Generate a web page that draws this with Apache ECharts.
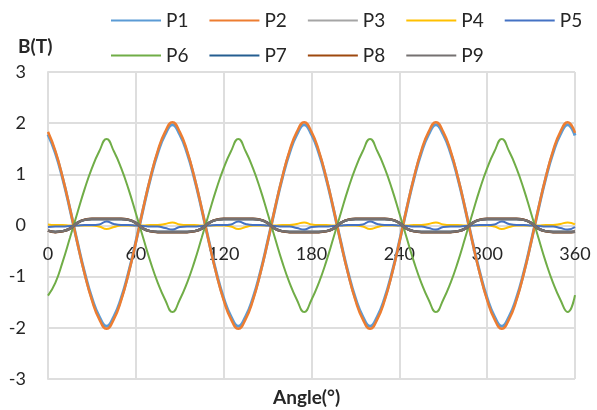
<!DOCTYPE html>
<html>
<head>
<meta charset="utf-8">
<script src="https://cdn.jsdelivr.net/npm/echarts@6/dist/echarts.min.js"></script>
<style>
  html, body { margin: 0; padding: 0; background: #fff; }
  #chart { width: 597px; height: 410px; }
</style>
</head>
<body>
<div id="chart"></div>
<script>
// angle samples (deg)
const angles = [
  0, 5, 10, 15, 20, 25, 30, 35, 40, 45, 50, 55, 60, 65, 70, 75, 80, 85,
  90, 95, 100, 105, 110, 115, 120, 125, 130, 135, 140, 145, 150, 155, 160, 165, 170, 175,
  180, 185, 190, 195, 200, 205, 210, 215, 220, 225, 230, 235, 240, 245, 250, 255, 260, 265,
  270, 275, 280, 285, 290, 295, 300, 305, 310, 315, 320, 325, 330, 335, 340, 345, 350, 355,
  360
]
const xTicks = [0, 60, 120, 180, 240, 300, 360]
const yTicks = [-3, -2, -1, 0, 1, 2, 3]

const p1 = [
  1.78, 1.42, 0.92, 0.32, -0.32, -0.92, -1.42, -1.78, -1.97, -1.78, -1.42, -0.92, -0.32, 0.32, 0.92, 1.42, 1.78, 1.97,
  1.78, 1.42, 0.92, 0.32, -0.32, -0.92, -1.42, -1.78, -1.97, -1.78, -1.42, -0.92, -0.32, 0.32, 0.92, 1.42, 1.78, 1.97,
  1.78, 1.42, 0.92, 0.32, -0.32, -0.92, -1.42, -1.78, -1.97, -1.78, -1.42, -0.92, -0.32, 0.32, 0.92, 1.42, 1.78, 1.97,
  1.78, 1.42, 0.92, 0.32, -0.32, -0.92, -1.42, -1.78, -1.97, -1.78, -1.42, -0.92, -0.32, 0.32, 0.92, 1.42, 1.78, 1.97,
  1.76
]
const p2 = [
  1.83, 1.46, 0.94, 0.33, -0.33, -0.94, -1.46, -1.83, -2.02, -1.83, -1.46, -0.94, -0.33, 0.33, 0.94, 1.46, 1.83, 2.02,
  1.83, 1.46, 0.94, 0.33, -0.33, -0.94, -1.46, -1.83, -2.02, -1.83, -1.46, -0.94, -0.33, 0.33, 0.94, 1.46, 1.83, 2.02,
  1.83, 1.46, 0.94, 0.33, -0.33, -0.94, -1.46, -1.83, -2.02, -1.83, -1.46, -0.94, -0.33, 0.33, 0.94, 1.46, 1.83, 2.02,
  1.83, 1.46, 0.94, 0.33, -0.33, -0.94, -1.46, -1.83, -2.02, -1.83, -1.46, -0.94, -0.33, 0.33, 0.94, 1.46, 1.83, 2.02,
  1.81
]
const p3 = [
  -0.10, -0.12, -0.11, -0.06, 0.05, 0.11, 0.12, 0.12, 0.12, 0.12, 0.12, 0.11, 0.05, -0.06, -0.11, -0.12, -0.12, -0.12,
  -0.12, -0.12, -0.11, -0.06, 0.05, 0.11, 0.12, 0.12, 0.12, 0.12, 0.12, 0.11, 0.05, -0.06, -0.11, -0.12, -0.12, -0.12,
  -0.12, -0.12, -0.11, -0.06, 0.05, 0.11, 0.12, 0.12, 0.12, 0.12, 0.12, 0.11, 0.05, -0.06, -0.11, -0.12, -0.12, -0.12,
  -0.12, -0.12, -0.11, -0.06, 0.05, 0.11, 0.12, 0.12, 0.12, 0.12, 0.12, 0.11, 0.05, -0.06, -0.11, -0.12, -0.12, -0.12,
  -0.12
]
const p4 = [
  0.02, 0.01, 0.01, 0, 0, 0, 0, -0.02, -0.07, -0.03, 0, 0, 0, 0, 0.01, 0.01, 0.03, 0.06,
  0.02, 0.01, 0.01, 0, 0, 0, 0, -0.02, -0.07, -0.03, 0, 0, 0, 0, 0.01, 0.01, 0.03, 0.06,
  0.02, 0.01, 0.01, 0, 0, 0, 0, -0.02, -0.07, -0.03, 0, 0, 0, 0, 0.01, 0.01, 0.03, 0.06,
  0.02, 0.01, 0.01, 0, 0, 0, 0, -0.02, -0.07, -0.03, 0, 0, 0, 0, 0.01, 0.01, 0.03, 0.06,
  0.02
]
const p5 = [
  -0.03, -0.02, -0.02, -0.01, 0, 0.01, 0.01, 0.02, 0.08, 0.03, 0.01, 0.01, 0, -0.01, -0.02, -0.02, -0.05, -0.08,
  -0.03, -0.02, -0.02, -0.01, 0, 0.01, 0.01, 0.02, 0.08, 0.03, 0.01, 0.01, 0, -0.01, -0.02, -0.02, -0.05, -0.08,
  -0.03, -0.02, -0.02, -0.01, 0, 0.01, 0.01, 0.02, 0.08, 0.03, 0.01, 0.01, 0, -0.01, -0.02, -0.02, -0.05, -0.08,
  -0.03, -0.02, -0.02, -0.01, 0, 0.01, 0.01, 0.02, 0.08, 0.03, 0.01, 0.01, 0, -0.01, -0.02, -0.02, -0.05, -0.08,
  -0.03
]
const p6 = [
  -1.37, -1.12, -0.71, -0.24, 0.24, 0.71, 1.12, 1.45, 1.69, 1.45, 1.12, 0.71, 0.24, -0.24, -0.71, -1.12, -1.45, -1.69,
  -1.45, -1.12, -0.71, -0.24, 0.24, 0.71, 1.12, 1.45, 1.69, 1.45, 1.12, 0.71, 0.24, -0.24, -0.71, -1.12, -1.45, -1.69,
  -1.45, -1.12, -0.71, -0.24, 0.24, 0.71, 1.12, 1.45, 1.69, 1.45, 1.12, 0.71, 0.24, -0.24, -0.71, -1.12, -1.45, -1.69,
  -1.45, -1.12, -0.71, -0.24, 0.24, 0.71, 1.12, 1.45, 1.69, 1.45, 1.12, 0.71, 0.24, -0.24, -0.71, -1.12, -1.45, -1.69,
  -1.36
]
const p7 = [
  -0.10, -0.125, -0.11, -0.06, 0.05, 0.11, 0.125, 0.125, 0.125, 0.125, 0.125, 0.11, 0.05, -0.06, -0.11, -0.125, -0.125, -0.125,
  -0.125, -0.125, -0.11, -0.06, 0.05, 0.11, 0.125, 0.125, 0.125, 0.125, 0.125, 0.11, 0.05, -0.06, -0.11, -0.125, -0.125, -0.125,
  -0.125, -0.125, -0.11, -0.06, 0.05, 0.11, 0.125, 0.125, 0.125, 0.125, 0.125, 0.11, 0.05, -0.06, -0.11, -0.125, -0.125, -0.125,
  -0.125, -0.125, -0.11, -0.06, 0.05, 0.11, 0.125, 0.125, 0.125, 0.125, 0.125, 0.11, 0.05, -0.06, -0.11, -0.125, -0.125, -0.125,
  -0.12
]
const p8 = [
  -0.10, -0.13, -0.115, -0.06, 0.05, 0.115, 0.13, 0.13, 0.13, 0.13, 0.13, 0.115, 0.05, -0.06, -0.115, -0.13, -0.13, -0.13,
  -0.13, -0.13, -0.115, -0.06, 0.05, 0.115, 0.13, 0.13, 0.13, 0.13, 0.13, 0.115, 0.05, -0.06, -0.115, -0.13, -0.13, -0.13,
  -0.13, -0.13, -0.115, -0.06, 0.05, 0.115, 0.13, 0.13, 0.13, 0.13, 0.13, 0.115, 0.05, -0.06, -0.115, -0.13, -0.13, -0.13,
  -0.13, -0.13, -0.115, -0.06, 0.05, 0.115, 0.13, 0.13, 0.13, 0.13, 0.13, 0.115, 0.05, -0.06, -0.115, -0.13, -0.13, -0.13,
  -0.12
]
const p9 = [
  -0.10, -0.125, -0.11, -0.06, 0.05, 0.11, 0.125, 0.125, 0.125, 0.125, 0.125, 0.11, 0.05, -0.06, -0.11, -0.125, -0.125, -0.125,
  -0.125, -0.125, -0.11, -0.06, 0.05, 0.11, 0.125, 0.125, 0.125, 0.125, 0.125, 0.11, 0.05, -0.06, -0.11, -0.125, -0.125, -0.125,
  -0.125, -0.125, -0.11, -0.06, 0.05, 0.11, 0.125, 0.125, 0.125, 0.125, 0.125, 0.11, 0.05, -0.06, -0.11, -0.125, -0.125, -0.125,
  -0.125, -0.125, -0.11, -0.06, 0.05, 0.11, 0.125, 0.125, 0.125, 0.125, 0.125, 0.11, 0.05, -0.06, -0.11, -0.125, -0.125, -0.125,
  -0.12
]

const seriesDefs = [
  { name: 'P1', data: p1, color: '#5B9BD5', width: 3 },
  { name: 'P2', data: p2, color: '#ED7D31', width: 2.5 },
  { name: 'P3', data: p3, color: '#A5A5A5', width: 2.5 },
  { name: 'P4', data: p4, color: '#FFC000', width: 2 },
  { name: 'P5', data: p5, color: '#4472C4', width: 2 },
  { name: 'P6', data: p6, color: '#70AD47', width: 2 },
  { name: 'P7', data: p7, color: '#255E91', width: 2.5 },
  { name: 'P8', data: p8, color: '#9E480E', width: 2.5 },
  { name: 'P9', data: p9, color: '#757171', width: 2.5 },
]

const FONT = 'Lato'
const gridColor = '#dedede'
const GRID_TOP = 72
const GRID_BOTTOM = 31
const PLOT_H = 410 - GRID_TOP - GRID_BOTTOM

const chart = echarts.init(document.getElementById('chart'))

const legendCommon = {
  left: 106,
  itemWidth: 50,
  itemHeight: 14,
  itemGap: 21,
  icon: 'path://M0,6 L50,6 L50,8 L0,8 Z',
  textStyle: { fontFamily: FONT, fontSize: 19, color: '#262626' },
}

chart.setOption({
  animation: false,
  textStyle: { fontFamily: FONT },
  title: [
    { text: 'B(T)', left: 13, top: 32, textStyle: { fontFamily: FONT, fontSize: 19, fontWeight: 'bold', color: '#262626' } },
    { text: 'Angle(°)', left: 268, top: 383, textStyle: { fontFamily: FONT, fontSize: 19, fontWeight: 'bold', color: '#262626' } },
  ],
  legend: [
    { ...legendCommon, top: 6, data: ['P1', 'P2', 'P3', 'P4', 'P5'] },
    { ...legendCommon, top: 41, data: ['P6', 'P7', 'P8', 'P9'] },
  ],
  grid: { left: 48, right: 22, top: GRID_TOP, bottom: GRID_BOTTOM },
  xAxis: {
    type: 'value',
    min: xTicks[0],
    max: xTicks[xTicks.length - 1],
    interval: 60,
    // axis (and its labels) sit on the y = 0 line
    offset: -PLOT_H / 2,
    axisLine: { onZero: false, lineStyle: { color: gridColor, width: 2 } },
    axisTick: { show: false },
    axisLabel: { fontFamily: FONT, fontSize: 18, color: '#262626', margin: 20 },
    splitLine: { show: true, lineStyle: { color: gridColor, width: 2 } },
  },
  yAxis: {
    type: 'value',
    min: yTicks[0],
    max: yTicks[yTicks.length - 1],
    interval: 1,
    axisLine: { show: true, lineStyle: { color: gridColor, width: 2 } },
    axisTick: { show: false },
    axisLabel: { fontFamily: FONT, fontSize: 18, color: '#262626', margin: 22 },
    splitLine: { show: true, lineStyle: { color: gridColor, width: 2 } },
  },
  series: seriesDefs.map(s => ({
    name: s.name,
    type: 'line',
    data: angles.map((a, i) => [a, s.data[i]]),
    smooth: 0.5,
    showSymbol: false,
    symbol: 'none',
    color: s.color,
    lineStyle: { color: s.color, width: s.width },
    itemStyle: { color: s.color },
  })),
})
</script>
</body>
</html>
